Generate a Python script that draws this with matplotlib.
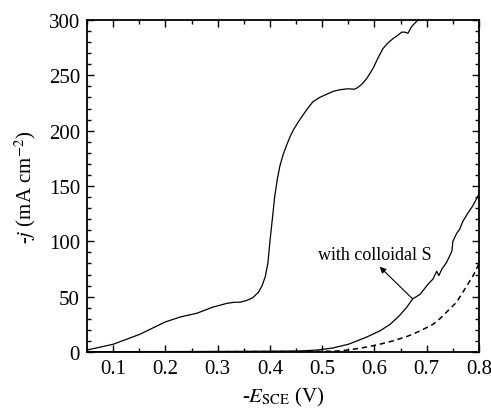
import matplotlib.pyplot as plt
from matplotlib.ticker import MultipleLocator

plt.rcParams['font.family'] = ['Liberation Serif', 'DejaVu Serif']
plt.rcParams['mathtext.fontset'] = 'stix'

# polarisation curve without additive
e_plain = [0.05, 0.10, 0.151, 0.199, 0.228, 0.26, 0.291, 0.318, 0.333, 0.343,
           0.355, 0.367, 0.378, 0.385, 0.391, 0.396, 0.40, 0.405, 0.409, 0.414,
           0.419, 0.425, 0.432, 0.438, 0.444, 0.453, 0.463, 0.472, 0.482, 0.495,
           0.509, 0.521, 0.534, 0.548, 0.562, 0.568, 0.576, 0.585, 0.597, 0.606,
           0.616, 0.625, 0.635, 0.644, 0.652, 0.658, 0.664, 0.671, 0.677, 0.683]
j_plain = [1.8, 7, 16, 27, 31.6, 35, 40.6, 44, 45, 45,
           46.5, 49, 54, 60, 68, 80, 100, 122, 140, 156,
           168, 178, 187, 194, 200, 207, 214, 220, 226, 230,
           233, 235.5, 237, 237.8, 237.5, 239, 242, 247, 256, 265,
           274, 279, 283, 286, 289, 289, 288, 294, 297, 300]

# with colloidal S
e_sulfur = [0.05, 0.2, 0.3, 0.4, 0.457, 0.49, 0.52, 0.55, 0.585, 0.61,
            0.63, 0.648, 0.662, 0.673, 0.687, 0.702, 0.712, 0.719, 0.723, 0.729,
            0.738, 0.744, 0.748, 0.75, 0.757, 0.763, 0.769, 0.778, 0.788, 0.798, 0.80]
j_sulfur = [0.3, 0.4, 0.5, 0.7, 0.9, 1.8, 3.6, 7, 13.5, 19,
            25, 33, 40.6, 48, 52, 61, 66, 73, 69, 75,
            81, 87, 91, 100, 107, 111, 118, 125, 132, 141, 143]

# blank electrolyte, dashed
e_blank = [0.05, 0.2, 0.3, 0.4, 0.5, 0.534, 0.56, 0.585, 0.61, 0.635,
           0.662, 0.687, 0.712, 0.725, 0.74, 0.757, 0.777, 0.79, 0.80]
j_blank = [0.2, 0.2, 0.3, 0.4, 0.6, 1, 2.5, 4.5, 7, 10,
           14, 19, 25, 30, 37, 45, 60, 70, 80]

fig = plt.figure(figsize=(4.91, 4.10), dpi=100)
ax = fig.add_axes([0.1772, 0.139, 0.7984, 0.8098])

ax.plot(e_plain, j_plain, color='black', lw=0.9)
ax.plot(e_sulfur, j_sulfur, color='black', lw=0.9)
ax.plot(e_blank, j_blank, color='black', lw=1.1, linestyle=(0, (3.5, 2.5)))

ax.text(0.60, 88, 'with colloidal S', ha='center', va='center', fontsize=13)
ax.annotate('', xy=(0.61, 77), xytext=(0.673, 48),
            arrowprops=dict(arrowstyle='-|>', color='black', lw=0.8,
                            mutation_scale=9, shrinkA=0, shrinkB=0))

ax.set_xlim(0.05, 0.8)
ax.set_ylim(0, 300)
ax.xaxis.set_major_locator(MultipleLocator(0.1))
ax.xaxis.set_minor_locator(MultipleLocator(0.05))
ax.yaxis.set_major_locator(MultipleLocator(50))
ax.yaxis.set_minor_locator(MultipleLocator(10))
ax.tick_params(which='both', direction='in', top=True, right=True,
               labelsize=15, width=1.0, pad=5)
ax.tick_params(which='major', length=5)
ax.tick_params(which='minor', length=3)
for s in ax.spines.values():
    s.set_linewidth(1.3)

ax.set_xlabel('-$E_{\\mathrm{SCE}}$ (V)', fontsize=15, labelpad=5)
ax.set_ylabel('-$j$ (mA cm$^{-2}$)', fontsize=15, labelpad=8)

fig.savefig('out.png', dpi=100)
